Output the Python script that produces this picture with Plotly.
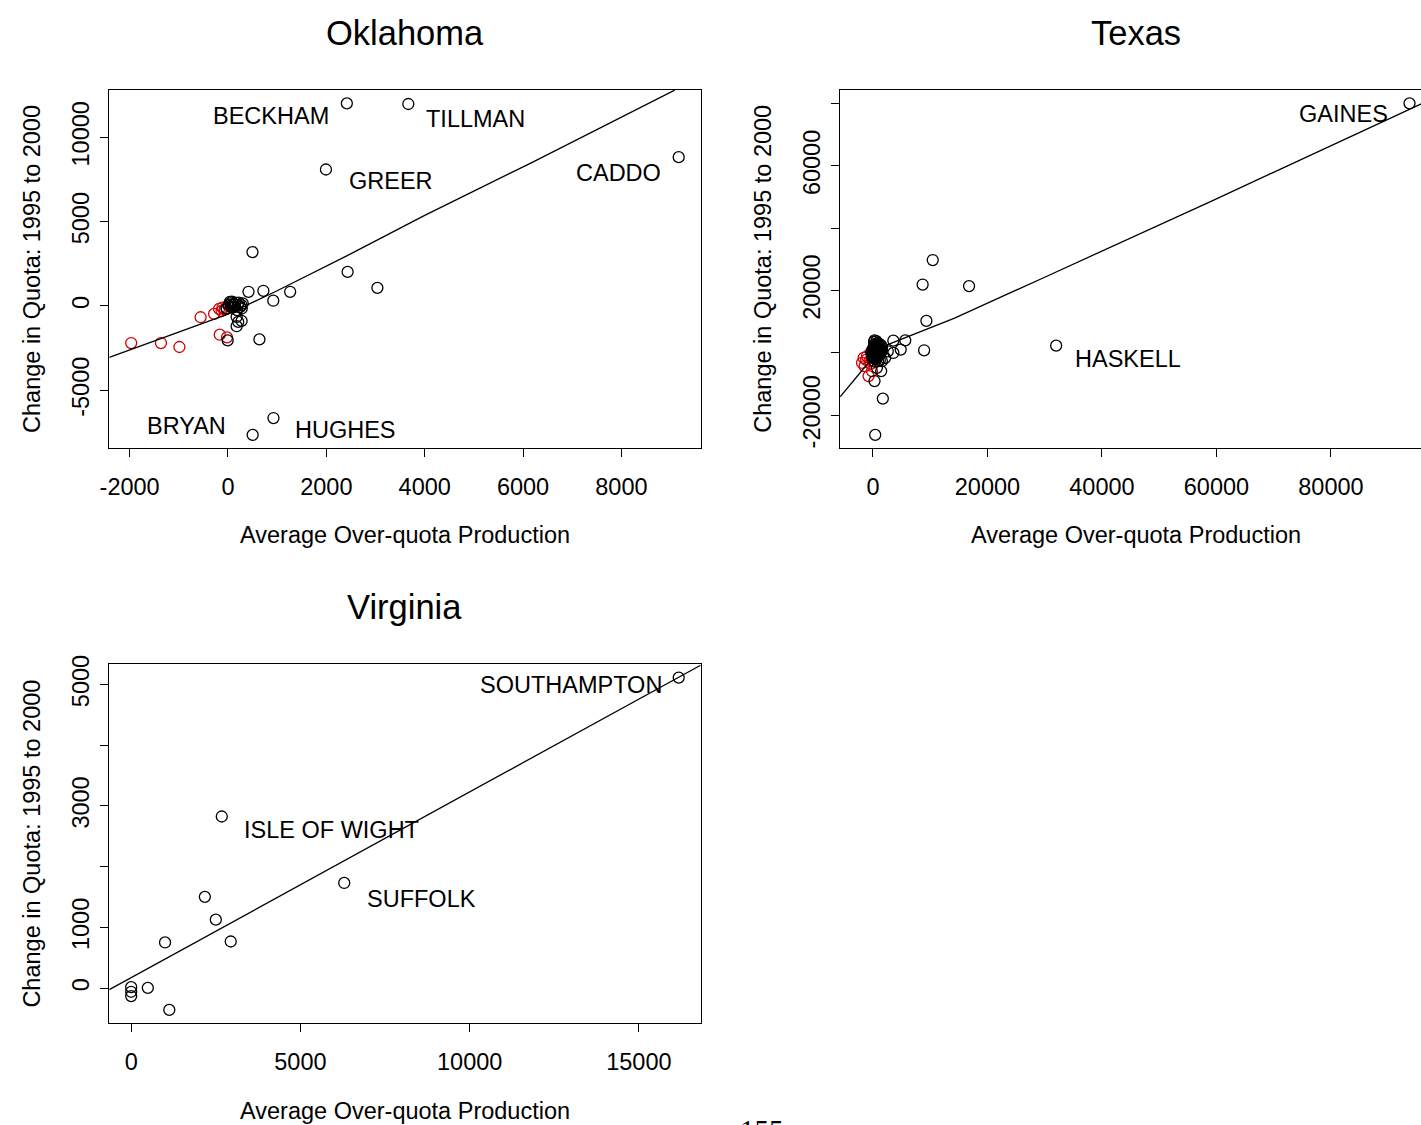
import plotly.graph_objects as go

W, H = 1421, 1125
FONT = "Liberation Sans, Arial, sans-serif"

# ---------------- Oklahoma ----------------
ok_named = ["BECKHAM", "TILLMAN", "GREER", "CADDO", "BRYAN", "HUGHES"]
ok_named_x = [2417, 3667, 1992, 9165, 502, 925]
ok_named_y = [12018, 11976, 8094, 8824, -7647, -6647]
ok_black_x = [498, 2433, 3038, 417, 720, 1264, 921, 639, -6, 176, 208, 277, 176, 6, 75, 141, 277, 40, -26,
              50, 100, 150, 200, 250, 300, -30, 80, 180, 280, 120, 220, 60]
ok_black_y = [3194, 2018, 1076, 841, 900, 841, 312, -1982, -2041, -1201, -947, -888, -651, 41, 41, -59, 41, 237, -160,
              150, -100, 200, 50, -50, 150, -150, 250, -250, -150, 100, 200, -50]
ok_red_x = [-1968, -1363, -988, -556, -282, -181, -113, -67, -167, -20, -130]
ok_red_y = [-2200, -2200, -2435, -671, -471, -176, -100, -200, -1706, -1865, -300]
ok_fit_x = [-2413, -1000, 0, 1000, 2435, 3990, 6167, 9083]
ok_fit_y = [-3050, -1560, -480, 900, 3000, 5353, 8488, 12800]
ok_xticks = [-2000, 0, 2000, 4000, 6000, 8000]
ok_yticks = [-5000, 0, 5000, 10000]
ok_ytext = ["-5000", "0", "5000", "10000"]

# ---------------- Texas ----------------
tx_named = ["GAINES", "HASKELL"]
tx_named_x = [93727, 32005]
tx_named_y = [80095, 2355]
tx_black_x = [10449, 8681, 16791, 9340, 8941, 277, 3570, 5649, 4852, 3570, 2599, 2131, 1560, 1438, 693, 277, 1733, 399,
              0, 150, 300, 450, 600, 750, 900, 1050, 1200, 1350, 1500, 1200, 900, 600, 300, 0, -200, -300, -100, 100,
              250, 500, 800, 1100, 1400, 1600, 1550, 1300, 1000, 700, 400, 100, 200, 500, 800, 1000, 650, 350, 900,
              500, 1200, 750, 400, 50, -150, 200, 600, 900, 300, 1200]
tx_black_y = [29817, 21957, 21448, 10310, 859, 4041, 3946, 4041, 1082, 0, 541, -1591, -2641, -5823, -4773, -9006, -14638, -26285,
              0, 400, 900, 1400, 1900, 2400, 2800, 2200, 1600, 1000, 400, -200, -600, -1000, -1400, -1100, -500, 300, 1000, 1800,
              2600, 3000, 3200, 2900, 2500, 1700, 900, 300, -900, -1600, -1900, -1600, 600, 100, 700, 1300, 1500, 1200, 2000,
              2200, 700, -300, -600, 400, -1300, 3600, 3800, -2600, -2800, -2300]
tx_red_x = [-1629, -1906, -1456, -762, -1040, -173, -600, -400, -1200]
tx_red_y = [-1591, -3182, -4232, -7414, -1050, -5823, -2500, -3500, -2200]
tx_fit_x = [-5731, -1040, 1837, 14261, 30000, 58864, 96000]
tx_fit_y = [-14100, -3691, 2132, 11200, 24300, 48500, 80095]
tx_xticks = [0, 20000, 40000, 60000, 80000]
tx_yticks = [-20000, 0, 20000, 40000, 60000, 80000]
tx_ytext = ["-20000", "", "20000", "", "60000", ""]

# ---------------- Virginia ----------------
va_named = ["SOUTHAMPTON", "ISLE OF WIGHT", "SUFFOLK"]
va_named_x = [16176, 2676, 6294]
va_named_y = [5114, 2827, 1732]
va_black_x = [2176, 2500, 2941, 1000, 491, 1126, 0, 0, 0]
va_black_y = [1503, 1127, 768, 752, 5, -359, 16, -60, -131]
va_fit_x = [-647, 16823]
va_fit_y = [-25, 5318]
va_xticks = [0, 5000, 10000, 15000]
va_yticks = [0, 1000, 2000, 3000, 4000, 5000]
va_ytext = ["0", "1000", "", "3000", "", "5000"]

titles = ["Oklahoma", "Texas", "Virginia"]
x_title = "Average Over-quota Production"
y_title = "Change in Quota: 1995 to 2000"
page_number = "155"

# label offsets in pixels (style)
ok_shift = [(-76, -13), (67, -15), (65, -12), (-60, -16), (-66, 9), (72, -12)]
tx_shift = [(-66, -11), (72, -13)]
va_shift = [(-108, -7), (110, -14), (77, -16)]


def r_range(vals, frac=0.04):
    lo, hi = min(vals), max(vals)
    e = (hi - lo) * frac
    return [lo - e, hi + e]


fig = go.Figure()

marker_black = dict(symbol="circle-open", size=11, color="black", line=dict(width=1.3, color="black"))
marker_red = dict(symbol="circle-open", size=11, color="#d00000", line=dict(width=1.3, color="#d00000"))


def add_panel(idx, red_x, red_y, bx, by, nx, ny, fx, fy):
    xa = "x" if idx == 1 else f"x{idx}"
    ya = "y" if idx == 1 else f"y{idx}"
    if red_x:
        fig.add_trace(go.Scatter(x=red_x, y=red_y, mode="markers", marker=marker_red, xaxis=xa, yaxis=ya,
                                 showlegend=False, hoverinfo="skip"))
    fig.add_trace(go.Scatter(x=bx + nx, y=by + ny, mode="markers", marker=marker_black, xaxis=xa, yaxis=ya,
                             showlegend=False, hoverinfo="skip"))
    fig.add_trace(go.Scatter(x=fx, y=fy, mode="lines", line=dict(color="black", width=1.3), xaxis=xa, yaxis=ya,
                             showlegend=False, hoverinfo="skip"))


add_panel(1, ok_red_x, ok_red_y, ok_black_x, ok_black_y, ok_named_x, ok_named_y, ok_fit_x, ok_fit_y)
add_panel(2, tx_red_x, tx_red_y, tx_black_x, tx_black_y, tx_named_x, tx_named_y, tx_fit_x, tx_fit_y)
add_panel(3, [], [], va_black_x, va_black_y, va_named_x, va_named_y, va_fit_x, va_fit_y)

# panel pixel boxes (screen pixels)
ok_box = (100, 695.5, 81.7, 442.7)
tx_box = (836, 836 + 595.5, 81.7, 442.7)
va_box = (100, 695.5, 660.6, 1022.4)


def fx_(p):
    return p / W


def fy_(p):
    return 1 - p / H


def px_dom_x(a, b):
    return [max(0, fx_(a)), min(1, fx_(b))]


def px_dom_y(top, bot):
    return [fy_(bot), fy_(top)]


axis_common = dict(showgrid=False, zeroline=False, showline=True, linecolor="black", linewidth=1.3,
                   ticks="outside", ticklen=8, tickwidth=1.3, tickcolor="black",
                   tickfont=dict(family=FONT, size=23.5, color="black"))

ok_xr = r_range(ok_red_x + ok_black_x + ok_named_x)
ok_yr = r_range(ok_red_y + ok_black_y + ok_named_y)
tx_xr_full = r_range(tx_red_x + tx_black_x + tx_named_x)
tx_yr = r_range(tx_red_y + tx_black_y + tx_named_y)
tx_vis = (W - tx_box[0]) / (tx_box[1] - tx_box[0])
tx_xr = [tx_xr_full[0], tx_xr_full[0] + (tx_xr_full[1] - tx_xr_full[0]) * tx_vis]
va_xr = r_range(va_black_x + va_named_x)
va_yr = r_range(va_black_y + va_named_y)

fig.update_layout(
    width=W, height=H, margin=dict(l=0, r=0, t=0, b=0),
    paper_bgcolor="white", plot_bgcolor="white", showlegend=False,
    xaxis=dict(domain=px_dom_x(ok_box[0], ok_box[1]), anchor="y", range=ok_xr, tickvals=ok_xticks,
               ticktext=[str(v) for v in ok_xticks], mirror=True, ticklabelstandoff=9, **axis_common),
    yaxis=dict(domain=px_dom_y(ok_box[2], ok_box[3]), anchor="x", range=ok_yr, tickvals=ok_yticks,
               ticktext=ok_ytext, tickangle=-90, mirror=True, ticklabelstandoff=2, **axis_common),
    xaxis2=dict(domain=px_dom_x(tx_box[0], tx_box[1]), anchor="y2", range=tx_xr, tickvals=tx_xticks,
                ticktext=[str(v) for v in tx_xticks], mirror=True, ticklabelstandoff=9, **axis_common),
    yaxis2=dict(domain=px_dom_y(tx_box[2], tx_box[3]), anchor="x2", range=tx_yr, tickvals=tx_yticks,
                ticktext=tx_ytext, tickangle=-90, mirror=False, ticklabelstandoff=2, **axis_common),
    xaxis3=dict(domain=px_dom_x(va_box[0], va_box[1]), anchor="y3", range=va_xr, tickvals=va_xticks,
                ticktext=[str(v) for v in va_xticks], mirror=True, ticklabelstandoff=9, **axis_common),
    yaxis3=dict(domain=px_dom_y(va_box[2], va_box[3]), anchor="x3", range=va_yr, tickvals=va_yticks,
                ticktext=va_ytext, tickangle=-90, mirror=True, ticklabelstandoff=2, **axis_common),
)

ann = []
lab_font = dict(family=FONT, size=23.5, color="black")
for names, xs, ys, shifts, xr, yr in [
    (ok_named, ok_named_x, ok_named_y, ok_shift, "x", "y"),
    (tx_named, tx_named_x, tx_named_y, tx_shift, "x2", "y2"),
    (va_named, va_named_x, va_named_y, va_shift, "x3", "y3"),
]:
    for n, x, y, s in zip(names, xs, ys, shifts):
        ann.append(dict(text=n, x=x, y=y, xref=xr, yref=yr, showarrow=False, xshift=s[0], yshift=s[1],
                        font=lab_font, xanchor="center", yanchor="middle"))

for t, box in zip(titles, [ok_box, tx_box, va_box]):
    cx = (box[0] + box[1]) / 2
    ann.append(dict(text=t, x=fx_(cx), y=fy_(box[2] - 57.5), xref="paper", yref="paper", showarrow=False,
                    font=dict(family=FONT, size=34.5, color="black"), xanchor="center", yanchor="middle"))
    ann.append(dict(text=x_title, x=fx_(cx), y=fy_(box[3] + 88), xref="paper", yref="paper",
                    showarrow=False, font=lab_font, xanchor="center", yanchor="middle"))
    cy = (box[2] + box[3]) / 2
    ann.append(dict(text=y_title, x=fx_(box[0] - 78), y=fy_(cy), xref="paper", yref="paper",
                    showarrow=False, font=lab_font, textangle=-90, xanchor="center", yanchor="middle"))

ann.append(dict(text=page_number, x=fx_(757), y=fy_(1112), xref="paper", yref="paper", showarrow=False,
                font=dict(family="Liberation Serif, Times New Roman, serif", size=29, color="black"),
                xanchor="center", yanchor="top"))

fig.update_layout(annotations=ann)
fig.write_html("out.html", config={"displayModeBar": False},
               post_script="document.body.style.margin='0px';document.body.style.overflow='hidden';")
